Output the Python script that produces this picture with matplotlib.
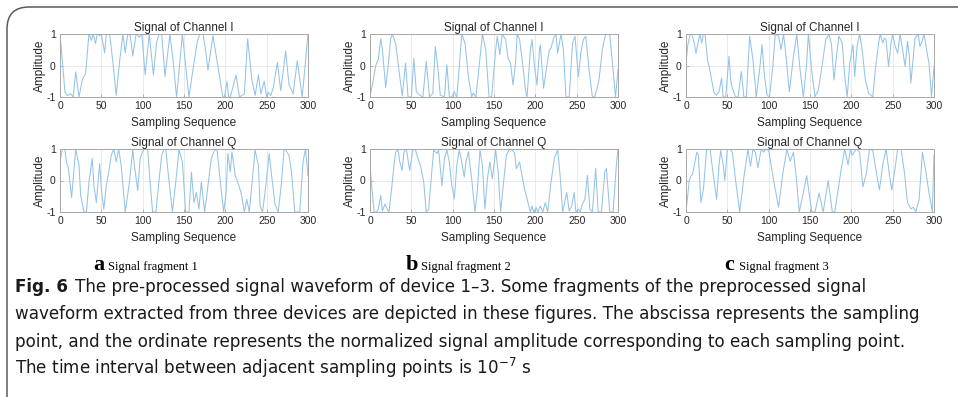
import matplotlib
matplotlib.use("Agg")
import matplotlib.pyplot as plt
from matplotlib.patches import FancyBboxPatch

plt.rcParams['font.family'] = ['Liberation Sans', 'DejaVu Sans']
plt.rcParams['axes.unicode_minus'] = False
plt.rcParams['mathtext.fontset'] = 'dejavusans'

# waveform knots: (sampling index, amplitude)
dev1_i = [(0, 1), (3, 0.1), (6, -0.85), (9, -0.95), (13, -0.9), (16, -1), (19, -0.2), (23, -1),
          (27, -0.45), (31, -0.25), (35, 1), (38, 0.8), (40, 1), (43, 0.7), (45, 1), (48, 0.95),
          (50, 1), (54, 0.4), (56, 1), (60, 1), (64, 0.1), (68, -0.95), (72, 0.1), (76, 1),
          (79, 0.4), (82, 1), (85, 0.95), (88, 0.3), (92, 1), (96, 0.9), (99, 1), (103, -0.3),
          (108, 1), (113, -0.3), (117, 0.75), (120, 1), (123, 1), (127, -0.35), (133, 1),
          (137, 0.1), (141, -1), (145, 0.1), (148, 1), (152, 0), (156, -1), (161, -0.1),
          (166, 0.75), (169, 1), (173, 1), (176, 0.5), (179, -0.15), (185, 0.95), (197, -1),
          (199, -1), (202, -0.5), (204, -1), (206, -1), (213, -0.3), (217, -1), (223, -0.9),
          (227, 0.85), (232, -0.45), (236, -0.95), (240, -0.3), (243, -0.9), (247, -0.5),
          (250, -1), (252, -0.85), (255, -0.95), (258, -0.7), (263, 0.1), (267, -0.8),
          (273, 0.45), (277, -0.6), (282, -0.9), (287, 0.15), (293, -1), (300, 1)]

dev1_q = [(0, 0.6), (3, 1), (6, 0.97), (8, 0.54), (10, 0.43), (14, -0.54), (16, 0.05), (19, 1),
          (23, 0.48), (25, -0.48), (29, -1), (32, -1), (35, -0.05), (39, 0.7), (41, -0.16),
          (44, -0.7), (48, 0.54), (50, -0.27), (53, -0.91), (56, -0.16), (59, 0.27), (62, 0.8),
          (65, 1), (68, 0.6), (71, 1), (74, 0.48), (79, -1), (84, -0.05), (88, 0.97), (90, 0.48),
          (94, -0.32), (97, 0.7), (99, 0.86), (102, 1), (106, 1), (109, -0.05), (112, -1),
          (116, -1), (120, 0.05), (123, 0.8), (126, 1), (128, 0.97), (132, -0.05), (136, -1),
          (140, -0.05), (144, 0.97), (148, 0.6), (152, -1), (156, -1), (159, 0.27), (162, -0.7),
          (165, -0.38), (168, -0.91), (171, -0.05), (175, -1), (179, -0.16), (183, 0.7),
          (187, 0.97), (190, 0.97), (194, -0.05), (198, -1), (201, -0.38), (203, 0.86),
          (206, 0.27), (208, 0.91), (212, 0.16), (215, -0.05), (219, -0.38), (223, -1),
          (226, -0.6), (229, -1), (232, -0.16), (236, 0.97), (240, 0.48), (242, -0.8),
          (245, -1), (249, -0.16), (253, 0.86), (256, 0.16), (260, -0.75), (264, -1),
          (268, -0.05), (271, 0.97), (273, 0.97), (277, 0.8), (280, 0.27), (284, -1),
          (290, -1), (294, 0.6), (297, 1), (300, 0.16)]

dev2_i = [(0, -1), (4, -0.45), (7, 0), (10, 0.2), (13, 0.85), (15, 0.5), (19, -0.7), (22, 0),
          (25, 0.85), (27, 1), (31, 0.7), (35, -0.14), (39, -0.97), (43, 0.07), (46, -1),
          (50, -1), (53, 0.23), (56, -0.83), (60, -0.94), (64, -1), (68, 0.13), (72, -1),
          (76, -0.88), (79, 0.6), (82, -0.03), (85, -0.94), (90, -1), (93, 0.02), (96, -1),
          (99, -1), (102, -0.83), (105, -1), (108, -0.03), (111, 1), (115, 0.7), (119, -0.35),
          (123, -1), (125, -0.88), (128, -1), (132, -0.03), (136, 1), (140, 0.5), (144, -1),
          (147, -1), (152, 0.5), (154, 0.93), (157, 0.34), (160, 1), (164, 0.82), (167, 0.23),
          (170, 0.07), (173, -0.62), (176, 0.07), (178, 1), (181, 0.82), (185, -0.03),
          (188, -0.78), (190, -1), (194, 0.5), (196, 0.82), (199, -0.03), (202, -0.62),
          (205, 0.5), (206, 0.66), (210, -0.72), (215, 0.18), (217, 0.5), (219, 0.55),
          (222, 0.87), (225, 1), (227, 0.39), (231, 1), (234, 0.5), (237, -1), (241, -1),
          (245, 0.71), (248, 0.93), (252, -0.35), (255, 0.39), (258, 0.82), (261, 0.93),
          (265, -0.14), (269, -1), (272, -1), (277, -0.46), (281, 0.5), (285, 1), (290, 1),
          (294, -0.14), (297, -1), (300, -0.14)]

dev2_q = [(0, 0.48), (2, -0.16), (5, -1), (8, -1), (10, -0.91), (13, -0.48), (15, -0.97),
          (18, -0.75), (20, -0.86), (23, -1), (27, -0.05), (29, 0.48), (31, 0.91), (34, 0.97),
          (36, 0.59), (39, 0.32), (41, 0.91), (44, 1), (47, 0.48), (48, 0.32), (52, 1),
          (55, 0.97), (58, 0.7), (61, 0.48), (65, -0.05), (68, -1), (71, -0.91), (74, 0.05),
          (77, 0.97), (81, 0.86), (83, 0.97), (87, -0.16), (90, 0.7), (93, 0.97), (96, 0.59),
          (99, -0.16), (102, -0.59), (105, 0.48), (108, 0.97), (111, 0.59), (114, 0.11),
          (116, 0.59), (119, 0.91), (123, 0.05), (127, -1), (130, -0.27), (133, 0.97),
          (136, 0.48), (139, -0.91), (142, 0.05), (145, 0.59), (148, 0.05), (152, 0.97),
          (155, 0.27), (158, -1), (162, 0.05), (165, 0.81), (169, 1), (172, 0.97), (175, 0.86),
          (177, 0.38), (181, 0.59), (183, 0.27), (187, -0.27), (190, -0.59), (194, -1),
          (196, -0.81), (198, -1), (201, -0.86), (203, -1), (206, -0.81), (209, -1),
          (212, -0.7), (215, -1), (219, -0.05), (223, 0.7), (227, 0.97), (230, 0.16),
          (233, -1), (235, -0.75), (238, -0.38), (241, -0.97), (244, -0.81), (247, -0.38),
          (249, -1), (252, -0.91), (254, -1), (257, -0.75), (260, -0.59), (263, 0.16),
          (266, -0.91), (269, -1), (273, 0.38), (276, -1), (280, -1), (284, 0.27), (286, 0.38),
          (290, -1), (294, -1), (298, 0.48), (300, 1)]

dev3_i = [(0, 0.07), (2, 0.61), (5, 1), (7, 1), (10, 0.71), (12, 0.39), (15, 0.77), (17, 1),
          (19, 0.71), (21, 1), (23, 1), (26, 0.18), (28, -0.03), (31, -0.46), (34, -0.88),
          (37, -0.94), (40, -0.83), (43, -0.4), (45, -1), (48, -1), (52, 0.29), (54, -0.46),
          (56, -0.72), (60, -1), (63, -1), (67, -0.19), (70, -1), (73, -1), (77, 0.93),
          (81, 0.18), (85, -1), (89, -0.14), (92, 0.66), (95, -0.35), (98, -0.94), (101, -1),
          (105, -0.03), (108, 1), (112, 0.93), (115, 0.5), (118, 1), (121, 0.29), (125, -0.83),
          (130, 0.29), (134, 1), (138, -0.14), (142, -1), (146, 0.07), (148, 1), (152, -0.14),
          (156, -1), (160, -0.78), (165, 0.07), (169, 0.82), (173, 1), (176, 0.66),
          (179, -0.46), (182, 0.29), (185, 0.93), (189, 0.71), (192, -0.35), (195, -1),
          (198, 0.07), (202, 0.66), (204, -0.35), (207, 0.61), (210, 1), (213, 0.5),
          (217, -0.46), (221, -0.88), (226, -1), (229, -0.14), (233, 0.71), (235, 1),
          (238, 0.71), (240, 0.87), (242, 0.82), (245, -0.03), (248, 0.71), (250, 1),
          (253, 0.61), (256, 0.39), (259, 1), (262, 0.5), (265, -0.03), (268, 0.77),
          (270, 0.34), (272, -0.56), (275, 0.29), (277, 0.87), (281, 1), (283, 0.61),
          (285, 0.71), (288, 1), (291, 0.5), (294, 0.07), (297, -1), (300, -0.03)]

dev3_q = [(0, -1), (4, 0), (6, 0.15), (8, 0.2), (13, 0.9), (15, 0.8), (18, -0.7), (21, -0.3),
          (25, 1), (29, 1), (33, 0.2), (37, -0.6), (40, 0.5), (42, 0.95), (45, 0.5), (47, 0),
          (50, 1), (53, 1), (56, 0.9), (60, 0), (65, -1), (70, 0.1), (75, 1), (78, 0.45),
          (81, 1), (84, 0.9), (87, 0.4), (91, 1), (94, 0.9), (97, 1), (100, 0.95), (106, 0),
          (112, -0.85), (117, 0.2), (122, 1), (126, 0.6), (130, 0.9), (133, 0.2), (137, -1),
          (141, -0.5), (146, 0.15), (150, -0.6), (152, -1), (156, -1), (161, -0.4), (166, -1),
          (172, 0), (177, -1), (180, -1), (184, -0.3), (188, 0.4), (192, 1), (196, 0.5),
          (199, 1), (201, 0.8), (206, 1), (210, 0.9), (214, -0.2), (218, 0.2), (222, 1),
          (226, 0.95), (230, 0.3), (234, -0.3), (238, 0.5), (242, 1), (246, 0.2), (249, -0.3),
          (253, 0.4), (256, 1), (260, 1), (264, 0.3), (268, -0.7), (272, -0.9), (275, -0.85),
          (278, -1), (282, -0.6), (286, 0.9), (290, 0.3), (294, -0.4), (298, -1), (300, 0.8)]

panels = [dev1_i, dev1_q, dev2_i, dev2_q, dev3_i, dev3_q]
titles = ["Signal of Channel I", "Signal of Channel Q"]
xticks = [0, 50, 100, 150, 200, 250, 300]
yticks = [-1, 0, 1]
letters = ["a", "b", "c"]
fragments = ["Signal fragment 1", "Signal fragment 2", "Signal fragment 3"]

W, H = 958, 397
fig = plt.figure(figsize=(W / 100, H / 100), dpi=100)

# overlay in pixel coords for border + captions
bg = fig.add_axes([0, 0, 1, 1])
bg.set_xlim(0, W)
bg.set_ylim(H, 0)
bg.axis('off')
bg.add_patch(FancyBboxPatch((7, 7), 1100, 420, boxstyle="round,pad=0,rounding_size=22",
                            fc='none', ec='#5a5a5a', lw=1.1))

lefts = [60, 370, 686]
tops = [34, 149]
w, h = 248, 63
line_col = '#94c3e8'

for col in range(3):
    for row in range(2):
        data = panels[col * 2 + row]
        xs = [p[0] for p in data]
        ys = [p[1] for p in data]
        ax = fig.add_axes([lefts[col] / W, 1 - (tops[row] + h) / H, w / W, h / H])
        ax.plot(xs, ys, color=line_col, lw=0.75)
        ax.set_xlim(0, 300)
        ax.set_ylim(-1, 1)
        ax.set_xticks(xticks)
        ax.set_yticks(yticks)
        ax.grid(True, color='#e6e6e6', lw=0.6)
        ax.set_axisbelow(True)
        ax.tick_params(direction='in', length=2, width=0.5, labelsize=7.5,
                       colors='#999999', labelcolor='#262626', pad=3)
        for s in ax.spines.values():
            s.set_color('#a8a8a8')
            s.set_linewidth(0.7)
        ax.set_title(titles[row], fontsize=8.5, pad=2.5, color='#262626')
        ax.set_xlabel("Sampling Sequence", fontsize=8.5, labelpad=4, color='#262626')
        ax.set_ylabel("Amplitude", fontsize=8.5, labelpad=0, color='#262626')

# sub-captions
sub_x = [93, 406, 724]
for i in range(3):
    bg.text(sub_x[i], 270, letters[i], family='Liberation Serif', weight='bold',
            fontsize=16, va='baseline', ha='left')
    bg.text(sub_x[i] + 15, 270, fragments[i], family='Liberation Serif',
            fontsize=9, va='baseline', ha='left')

# figure caption
cap_kw = dict(fontsize=12.1, family='DejaVu Sans', va='baseline', ha='left', color='#1a1a1a')
fig_lbl = bg.text(15, 292, "Fig. 6", weight='bold', **cap_kw)
bg.annotate("The pre-processed signal waveform of device 1\u20133. Some fragments of the preprocessed signal",
            xy=(1, 0), xycoords=fig_lbl, xytext=(5, 0), textcoords='offset points',
            fontsize=12.1, family='DejaVu Sans', va='bottom', ha='left', color='#1a1a1a')
bg.text(15, 319, "waveform extracted from three devices are depicted in these figures. The abscissa represents the sampling", **cap_kw)
bg.text(15, 347, "point, and the ordinate represents the normalized signal amplitude corresponding to each sampling point.", **cap_kw)
bg.text(15, 374, r"The time interval between adjacent sampling points is 10$^{-7}$ s", **cap_kw)

fig.savefig("out.png", dpi=100)
